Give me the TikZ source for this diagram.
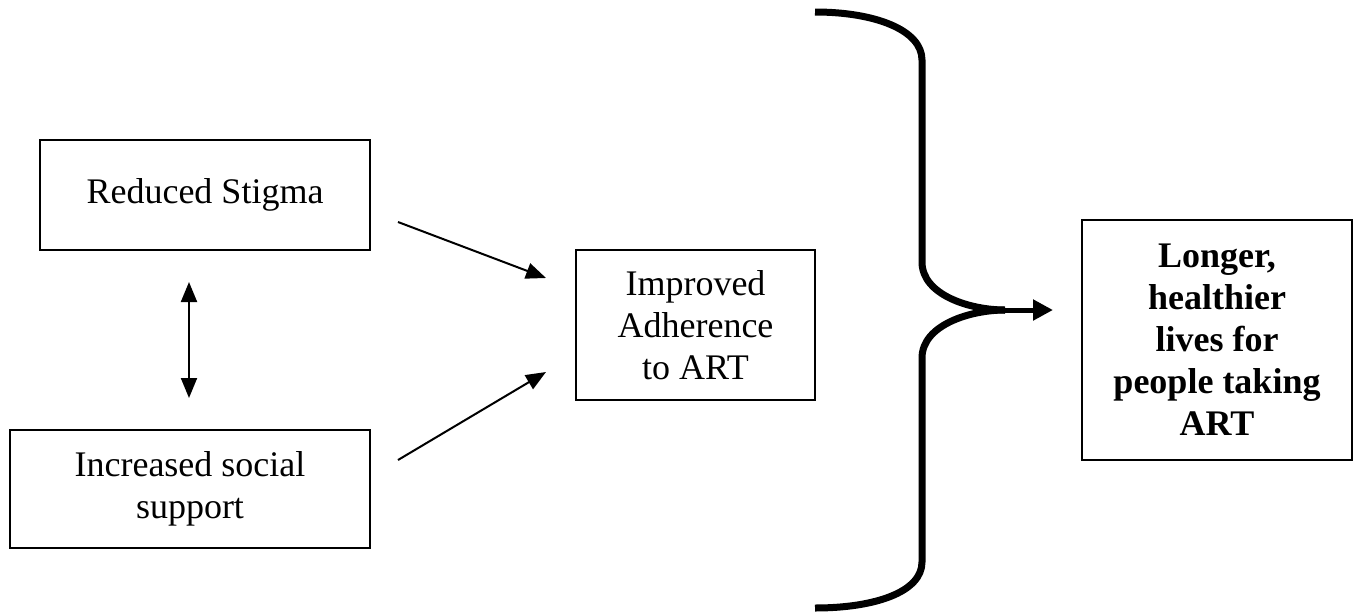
\documentclass[tikz,border=0pt]{standalone}
\usepackage{fontspec}
\setmainfont{Liberation Serif}
\usetikzlibrary{arrows.meta}
\begin{document}
\begin{tikzpicture}[x=1pt,y=-1pt,
  box/.style={draw,line width=2.5pt,inner sep=0pt,align=center,font=\fontsize{36}{42}\selectfont},
  arr/.style={line width=2pt,-{Triangle[length=20pt,width=16pt]}},
  darr/.style={line width=2pt,{Triangle[length=20pt,width=16pt]}-{Triangle[length=20pt,width=16pt]}},
  brace/.style={line width=7pt},
  bigarr/.style={line width=5pt,-{Triangle[length=20pt,width=20pt]}}
]
\useasboundingbox (0,0) rectangle (1360,614);
\node[box,minimum width=330,minimum height=110] (rs) at (205,195) {Reduced Stigma};
\node[box,minimum width=360,minimum height=118] (ss) at (190,489) {Increased social\\support};
\node[box,minimum width=239,minimum height=150] (ad) at (695.5,325) {Improved\\Adherence\\to ART};
\node[box,minimum width=270,minimum height=240,font=\fontsize{36}{42}\selectfont\bfseries] (lo) at (1217,340) {Longer,\\healthier\\lives for\\people taking\\ART};
% connector endpoints
\coordinate (a1s) at (398,222);
\coordinate (a1e) at (546,278);
\coordinate (a2s) at (398,460);
\coordinate (a2e) at (546,372);
\coordinate (d1) at (189,282);
\coordinate (d2) at (189,398);
\coordinate (tip) at (1005,310);
\coordinate (tipend) at (1053,310);
\draw[arr] (a1s) -- (a1e);
\draw[arr] (a2s) -- (a2e);
\draw[darr] (d1) -- (d2);
% brace
\draw[brace] (815,12) .. controls (875,12) and (922,30) .. (922,60) -- (922,262)
  .. controls (922,295) and (970,310) .. (tip);
\draw[brace] (tip) .. controls (970,310) and (922,325) .. (922,358) -- (922,562)
  .. controls (922,592) and (875,608) .. (815,608);
\draw[bigarr] (tip) -- (tipend);
\end{tikzpicture}
\end{document}
